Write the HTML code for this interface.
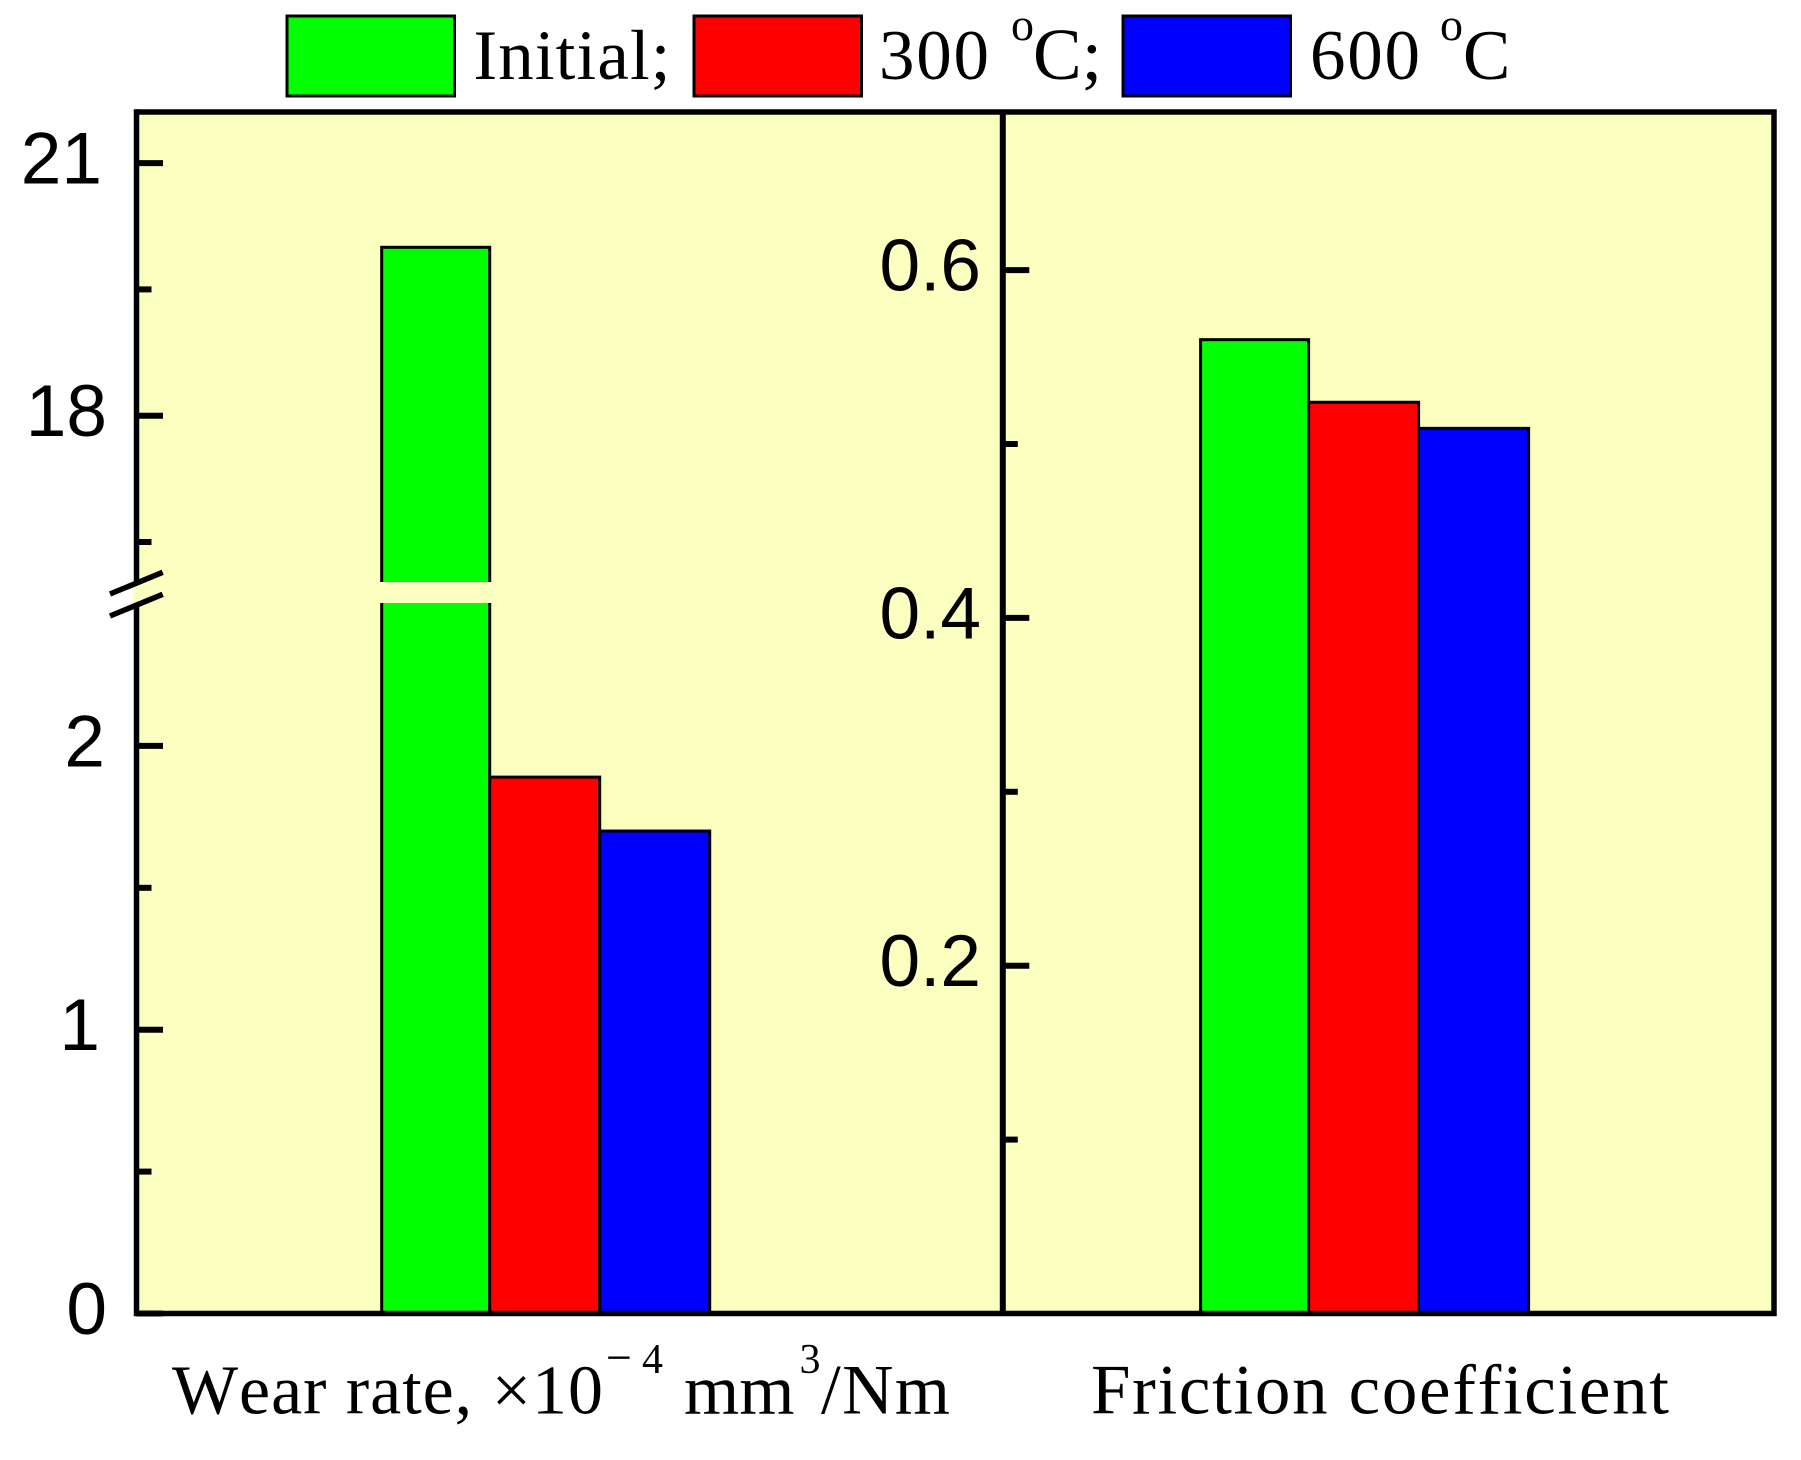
<!DOCTYPE html>
<html lang="en">
<head>
<meta charset="utf-8">
<title>Wear rate and friction coefficient</title>
<style>
html,body{margin:0;padding:0;background:#fff;width:1801px;height:1460px;overflow:hidden}
svg{display:block}
.sans{font-family:"Liberation Sans",sans-serif;fill:#000}
.serif{font-family:"Liberation Serif",serif;fill:#000;font-kerning:none}
</style>
</head>
<body>
<svg id="chart" xmlns="http://www.w3.org/2000/svg" width="1801" height="1460" viewBox="0 0 1801 1460">
  <rect x="136.5" y="112" width="1637.5" height="1201.5" fill="#fbffc0"/>
  <g id="bars"></g>
  <rect x="133" y="582" width="866" height="21" fill="#fbffc0"/>
  <path d="M136.5 112H1774V1313.5H136.5" fill="none" stroke="#000" stroke-width="5.5"/>
  <line x1="136.5" y1="109.3" x2="136.5" y2="582" stroke="#000" stroke-width="5.5"/>
  <line x1="136.5" y1="603" x2="136.5" y2="1316.2" stroke="#000" stroke-width="5.5"/>
  <line x1="1002.8" y1="112" x2="1002.8" y2="1313.5" stroke="#000" stroke-width="6"/>
  <g id="ticks"></g>
  <g stroke="#000" stroke-width="5.5">
    <line x1="110" y1="594" x2="162.7" y2="572.3"/>
    <line x1="110" y1="616" x2="162.7" y2="594.3"/>
  </g>
  <g>
    <rect x="287" y="16" width="167.5" height="80" fill="#00ff00" stroke="#000" stroke-width="3"/>
    <text class="serif" x="473.5" y="79" font-size="71" textLength="197" lengthAdjust="spacing">Initial;</text>
    <rect x="694" y="16" width="167.5" height="80" fill="#ff0000" stroke="#000" stroke-width="3"/>
    <text class="serif" x="879" y="79" font-size="71" textLength="110" lengthAdjust="spacing">300</text>
    <text class="serif" x="1011" y="40" font-size="46">o</text>
    <text class="serif" x="1033" y="79" font-size="73">C;</text>
    <rect x="1123" y="16" width="167.5" height="80" fill="#0000ff" stroke="#000" stroke-width="3"/>
    <text class="serif" x="1310" y="79" font-size="71" textLength="110" lengthAdjust="spacing">600</text>
    <text class="serif" x="1440" y="40" font-size="46">o</text>
    <text class="serif" x="1463" y="79" font-size="71">C</text>
  </g>
  <g>
    <text class="serif" x="172" y="1413.5" font-size="70" textLength="431" lengthAdjust="spacing">Wear rate, ×10</text>
    <text class="serif" x="606" y="1373" font-size="46">−</text>
    <text class="serif" x="642" y="1373" font-size="42">4</text>
    <text class="serif" x="684" y="1413.5" font-size="71">mm</text>
    <text class="serif" x="799.5" y="1373" font-size="42">3</text>
    <text class="serif" x="821" y="1413.5" font-size="71" textLength="129" lengthAdjust="spacing">/Nm</text>
  </g>
  <text class="serif" x="1091" y="1413.5" font-size="71" textLength="578" lengthAdjust="spacing">Friction coefficient</text>
</svg>
<script>
const seriesNames = ['initial', '300c', '600c'];
const wearValues = [20.0, 1.89, 1.70];
const frictionValues = [0.56, 0.524, 0.509];
const wearLowerTicks = [0, 1, 2];
const wearLowerMinorTicks = [0.5, 1.5];
const wearUpperTicks = [18, 21];
const wearUpperMinorTicks = [16.5, 19.5];
const frictionTicks = ['0.2', '0.4', '0.6'];
const frictionMinorTicks = [0.1, 0.3, 0.5];

const seriesColors = ['#00ff00', '#ff0000', '#0000ff'];
const SVG_NS = 'http://www.w3.org/2000/svg';
const baseY = 1313.5;
const breakValue = 10;

function yWear(v) {
  if (v < breakValue) return baseY - v * 283.8;
  return 415.7 - (v - 18) * 84.2;
}
function yFriction(v) {
  return baseY - v * 1739;
}
function barOffset(i) {
  return i === 0 ? 0 : 108 + (i - 1) * 110;
}
function barWidth(i) {
  return i === 0 ? 108 : 110;
}
function xWearBar(i) {
  return 381.7 + barOffset(i);
}
function xFrictionBar(i) {
  return 1200.6 + barOffset(i);
}

const barsLayer = document.getElementById('bars');
const ticksLayer = document.getElementById('ticks');

function makeNode(tag, parent, attrs) {
  const node = document.createElementNS(SVG_NS, tag);
  Object.keys(attrs).forEach(function (k) { node.setAttribute(k, attrs[k]); });
  parent.appendChild(node);
  return node;
}

function drawBar(x, top, series, prefix) {
  const el = makeNode('rect', barsLayer, {
    x: x, y: top, width: barWidth(series), height: baseY - top,
    fill: seriesColors[series], stroke: '#000', 'stroke-width': 3
  });
  
  
}

wearValues.forEach(function (v, i) { drawBar(xWearBar(i), yWear(v), i, 'wear'); });
frictionValues.forEach(function (v, i) { drawBar(xFrictionBar(i), yFriction(v), i, 'friction'); });

function drawTick(axisX, y, len, name) {
  const el = makeNode('line', ticksLayer, {
    x1: axisX, x2: axisX + len, y1: y, y2: y, stroke: '#000', 'stroke-width': 6
  });
  
  
}

function drawLabel(anchorX, y, text, name) {
  const el = makeNode('text', ticksLayer, {
    x: anchorX, y: y + 20.5, 'text-anchor': 'end', 'font-size': 73, 'class': 'sans'
  });
  el.textContent = text;
  
  
}

function wearLabelAnchor(v) {
  if (v === 21) return 102;
  if (v === 1) return 100;
  if (v === 2) return 105;
  return 107;
}

wearLowerTicks.concat(wearUpperTicks).forEach(function (v) {
  const y = yWear(v);
  drawTick(136.5, y, 26.5, 'wear-major-tick-' + v);
  drawLabel(wearLabelAnchor(v), y, String(v), 'wear-tick-label-' + v);
});
wearLowerMinorTicks.concat(wearUpperMinorTicks).forEach(function (v) {
  drawTick(136.5, yWear(v), 15, 'wear-minor-tick-' + v);
});
frictionTicks.forEach(function (t) {
  const y = yFriction(parseFloat(t));
  drawTick(1002.8, y, 26.5, 'friction-major-tick-' + t);
  drawLabel(981, y, t, 'friction-tick-label-' + t);
});
frictionMinorTicks.forEach(function (v) {
  drawTick(1002.8, yFriction(v), 15, 'friction-minor-tick-' + v);
});
</script>
</body>
</html>
